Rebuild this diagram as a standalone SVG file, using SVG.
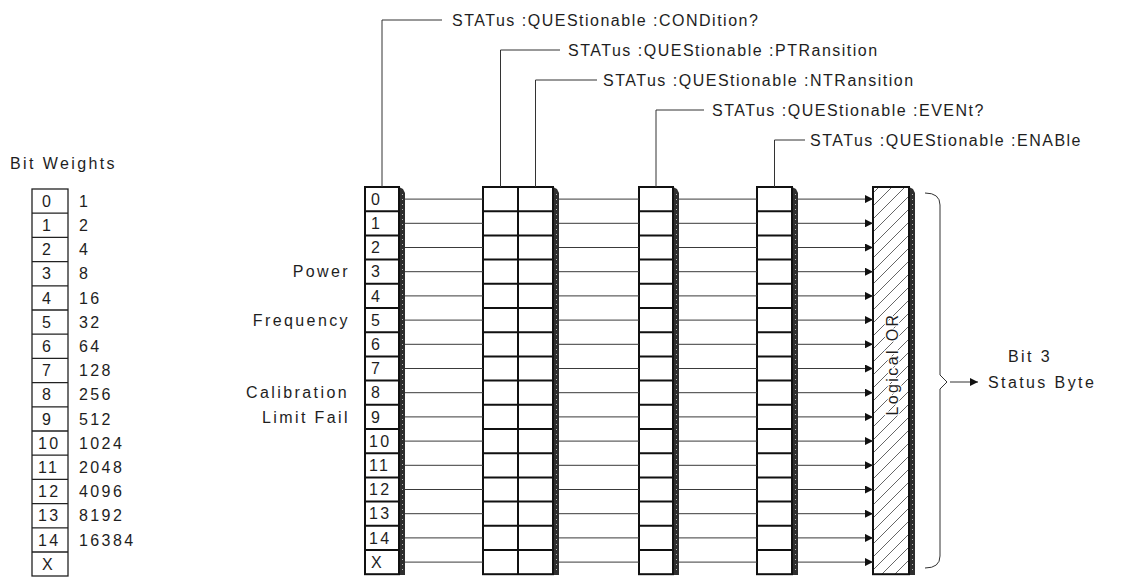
<svg xmlns="http://www.w3.org/2000/svg" width="1130" height="578" viewBox="0 0 1130 578">
<style>
text{font-family:"Liberation Sans","DejaVu Sans",Arial,sans-serif;font-size:16px;fill:#1e1e1e;letter-spacing:2.4px}
.cmd{letter-spacing:1.5px}
.box{fill:#fff;stroke:#111;stroke-width:2}
.thin{fill:#fff;stroke:#222;stroke-width:1.3}
.rl{fill:none;stroke:#111;stroke-width:2}
.wl{fill:none;stroke:#222;stroke-width:1.3}
.sh{fill:#2e2e2e}
.spk{fill:none;stroke:#bbb;stroke-width:1;stroke-dasharray:1 4}
.con{fill:none;stroke:#3a3a3a;stroke-width:1}
.lead{fill:none;stroke:#333;stroke-width:1}
.end{text-anchor:end}
</style>
<defs>
<marker id="ah" viewBox="0 0 10 10" refX="10" refY="5" markerWidth="8" markerHeight="8" markerUnits="userSpaceOnUse" orient="auto">
<path d="M0,0 L10,5 L0,10 z" fill="#111"/>
</marker>
<pattern id="hatch" patternUnits="userSpaceOnUse" width="13" height="13">
<path d="M-1,14 L14,-1" stroke="#555" stroke-width="0.9"/>
</pattern>
</defs>

<g id="bit-weights">
<text x="10" y="169">Bit Weights</text>
<rect class="thin" x="32" y="189" width="36" height="387"/>
<path class="wl" d="M32 213.2h36m-36 24.2h36m-36 24.2h36m-36 24.2h36m-36 24.2h36m-36 24.2h36m-36 24.2h36m-36 24.2h36m-36 24.2h36m-36 24.2h36m-36 24.2h36m-36 24.2h36m-36 24.2h36m-36 24.2h36m-36 24.2h36"/>
<text x="42" y="206.8">0</text><text x="79" y="206.8">1</text>
<text x="42" y="231">1</text><text x="79" y="231">2</text>
<text x="42" y="255.2">2</text><text x="79" y="255.2">4</text>
<text x="42" y="279.4">3</text><text x="79" y="279.4">8</text>
<text x="42" y="303.6">4</text><text x="79" y="303.6">16</text>
<text x="42" y="327.8">5</text><text x="79" y="327.8">32</text>
<text x="42" y="352">6</text><text x="79" y="352">64</text>
<text x="42" y="376.2">7</text><text x="79" y="376.2">128</text>
<text x="42" y="400.4">8</text><text x="79" y="400.4">256</text>
<text x="42" y="424.6">9</text><text x="79" y="424.6">512</text>
<text x="38" y="448.8">10</text><text x="79" y="448.8">1024</text>
<text x="38" y="473">11</text><text x="79" y="473">2048</text>
<text x="38" y="497.2">12</text><text x="79" y="497.2">4096</text>
<text x="38" y="521.4">13</text><text x="79" y="521.4">8192</text>
<text x="38" y="545.6">14</text><text x="79" y="545.6">16384</text>
<text x="42" y="569.8">X</text>
</g>

<g id="bit-labels">
<text class="end" x="350" y="277.4">Power</text>
<text class="end" x="350" y="325.8">Frequency</text>
<text class="end" x="349" y="398.4">Calibration</text>
<text class="end" x="350" y="422.6">Limit Fail</text>
</g>

<g id="condition-register">
<path class="sh" d="M399 187l4 2l2 4v382h-6z"/>
<path class="spk" d="M402.5 194V574"/>
<rect class="box" x="365" y="187" width="34" height="387.2"/>
<path class="rl" d="M365 211.2h34m-34 24.2h34m-34 24.2h34m-34 24.2h34m-34 24.2h34m-34 24.2h34m-34 24.2h34m-34 24.2h34m-34 24.2h34m-34 24.2h34m-34 24.2h34m-34 24.2h34m-34 24.2h34m-34 24.2h34m-34 24.2h34"/>
<text x="371" y="204.8">0</text>
<text x="371" y="229">1</text>
<text x="371" y="253.2">2</text>
<text x="371" y="277.4">3</text>
<text x="371" y="301.6">4</text>
<text x="371" y="325.8">5</text>
<text x="371" y="350">6</text>
<text x="371" y="374.2">7</text>
<text x="371" y="398.4">8</text>
<text x="371" y="422.6">9</text>
<text x="369" y="446.8">10</text>
<text x="369" y="471">11</text>
<text x="369" y="495.2">12</text>
<text x="369" y="519.4">13</text>
<text x="369" y="543.6">14</text>
<text x="371" y="567.8">X</text>
</g>

<g id="transition-registers">
<path class="sh" d="M553 187l4 2l2 4v382h-6z"/>
<path class="spk" d="M556.5 194V574"/>
<rect class="box" x="483" y="187" width="70" height="387.2"/>
<path class="rl" d="M518 187v387.2M483 211.2h70m-70 24.2h70m-70 24.2h70m-70 24.2h70m-70 24.2h70m-70 24.2h70m-70 24.2h70m-70 24.2h70m-70 24.2h70m-70 24.2h70m-70 24.2h70m-70 24.2h70m-70 24.2h70m-70 24.2h70m-70 24.2h70"/>
</g>

<g id="event-register">
<path class="sh" d="M673 187l4 2l2 4v382h-6z"/>
<path class="spk" d="M676.5 194V574"/>
<rect class="box" x="639" y="187" width="34" height="387.2"/>
<path class="rl" d="M639 211.2h34m-34 24.2h34m-34 24.2h34m-34 24.2h34m-34 24.2h34m-34 24.2h34m-34 24.2h34m-34 24.2h34m-34 24.2h34m-34 24.2h34m-34 24.2h34m-34 24.2h34m-34 24.2h34m-34 24.2h34m-34 24.2h34"/>
</g>

<g id="enable-register">
<path class="sh" d="M792 187l4 2l2 4v382h-6z"/>
<path class="spk" d="M795.5 194V574"/>
<rect class="box" x="757" y="187" width="35" height="387.2"/>
<path class="rl" d="M757 211.2h35m-35 24.2h35m-35 24.2h35m-35 24.2h35m-35 24.2h35m-35 24.2h35m-35 24.2h35m-35 24.2h35m-35 24.2h35m-35 24.2h35m-35 24.2h35m-35 24.2h35m-35 24.2h35m-35 24.2h35m-35 24.2h35"/>
</g>

<g id="logical-or">
<path class="sh" d="M909 187l4 2l2 4v382h-6z"/>
<path class="spk" d="M912.5 194V574"/>
<rect x="873" y="187" width="36" height="387.2" fill="url(#hatch)" stroke="#111" stroke-width="2"/>
<text transform="translate(898,364) rotate(-90)" text-anchor="middle" style="paint-order:stroke;stroke:#fff;stroke-width:2.5px">Logical OR</text>
</g>

<g id="status-byte">
<path class="lead" d="M925 193q15 0 15 12v170l7 7l-7 7v167q0 12 -15 12"/>
<line class="lead" x1="950" y1="382" x2="978" y2="382" marker-end="url(#ah)"/>
<text x="1008" y="362">Bit 3</text>
<text x="988" y="387.7">Status Byte</text>
</g>

<g id="command-labels">
<path class="lead" d="M382 187V20H442"/>
<text class="cmd" x="452" y="25.7">STATus :QUEStionable :CONDition?</text>
<path class="lead" d="M500.5 187V50H560"/>
<text class="cmd" x="568" y="55.7">STATus :QUEStionable :PTRansition</text>
<path class="lead" d="M535.5 187V80H597"/>
<text class="cmd" x="603" y="85.7">STATus :QUEStionable :NTRansition</text>
<path class="lead" d="M656 187V110H704"/>
<text class="cmd" x="712" y="115.7">STATus :QUEStionable :EVENt?</text>
<path class="lead" d="M774.5 187V140H805"/>
<text class="cmd" x="810" y="145.7">STATus :QUEStionable :ENABle</text>
</g>

<g id="connectors">
<path class="con" d="M405 199.1H483M405 223.3H483M405 247.5H483M405 271.7H483M405 295.9H483M405 320.1H483M405 344.3H483M405 368.5H483M405 392.7H483M405 416.9H483M405 441.1H483M405 465.3H483M405 489.5H483M405 513.7H483M405 537.9H483M405 562.1H483"/>
<path class="con" d="M559 199.1H639M559 223.3H639M559 247.5H639M559 271.7H639M559 295.9H639M559 320.1H639M559 344.3H639M559 368.5H639M559 392.7H639M559 416.9H639M559 441.1H639M559 465.3H639M559 489.5H639M559 513.7H639M559 537.9H639M559 562.1H639"/>
<path class="con" d="M679 199.1H757M679 223.3H757M679 247.5H757M679 271.7H757M679 295.9H757M679 320.1H757M679 344.3H757M679 368.5H757M679 392.7H757M679 416.9H757M679 441.1H757M679 465.3H757M679 489.5H757M679 513.7H757M679 537.9H757M679 562.1H757"/>
<g class="con" marker-end="url(#ah)">
<line x1="798" y1="199.1" x2="873" y2="199.1"/>
<line x1="798" y1="223.3" x2="873" y2="223.3"/>
<line x1="798" y1="247.5" x2="873" y2="247.5"/>
<line x1="798" y1="271.7" x2="873" y2="271.7"/>
<line x1="798" y1="295.9" x2="873" y2="295.9"/>
<line x1="798" y1="320.1" x2="873" y2="320.1"/>
<line x1="798" y1="344.3" x2="873" y2="344.3"/>
<line x1="798" y1="368.5" x2="873" y2="368.5"/>
<line x1="798" y1="392.7" x2="873" y2="392.7"/>
<line x1="798" y1="416.9" x2="873" y2="416.9"/>
<line x1="798" y1="441.1" x2="873" y2="441.1"/>
<line x1="798" y1="465.3" x2="873" y2="465.3"/>
<line x1="798" y1="489.5" x2="873" y2="489.5"/>
<line x1="798" y1="513.7" x2="873" y2="513.7"/>
<line x1="798" y1="537.9" x2="873" y2="537.9"/>
<line x1="798" y1="562.1" x2="873" y2="562.1"/>
</g>
</g>
</svg>
